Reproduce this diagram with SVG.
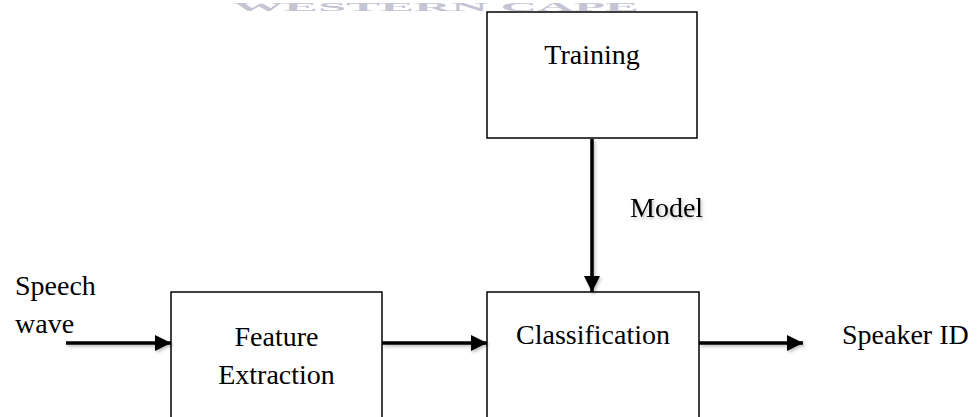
<svg xmlns="http://www.w3.org/2000/svg" width="977" height="417" viewBox="0 0 977 417">
  <style>
    .box { fill: #ffffff; stroke: #000000; stroke-width: 1.5; }
    .lbl { font-family: "Liberation Serif", "Times New Roman", serif; font-size: 28px; fill: #000000; }
    .mid { text-anchor: middle; }
    .wire { stroke: #000000; stroke-width: 3.5; fill: none; marker-end: url(#head); }
    .mark { font-family: "Liberation Serif", serif; font-size: 12px; font-weight: bold; fill: #c4c4d2; }
  </style>
  <defs>
    <marker id="head" viewBox="0 0 16 16" refX="16" refY="8" markerWidth="16" markerHeight="16" markerUnits="userSpaceOnUse" orient="auto">
      <path d="M0,0 L16,8 L0,16 Z" fill="#000000"/>
    </marker>
    <filter id="soft" x="-10%" y="-50%" width="120%" height="200%">
      <feDropShadow dx="1.5" dy="2" stdDeviation="1.5" flood-color="#000000" flood-opacity="0.25"/>
    </filter>
  </defs>

  <rect width="977" height="417" fill="#ffffff"/>

  <!-- faint banner lettering along the top edge -->
  <text class="mark" x="233" y="11" textLength="406" lengthAdjust="spacingAndGlyphs">WESTERN  CAPE</text>

  <g id="training">
    <rect class="box" x="487" y="12" width="210" height="126"/>
    <text class="lbl mid" x="592" y="64">Training</text>
  </g>

  <g id="feature-extraction">
    <rect class="box" x="171" y="292" width="211" height="140"/>
    <text class="lbl mid" x="276.5" y="346">Feature</text>
    <text class="lbl mid" x="276.5" y="384">Extraction</text>
  </g>

  <g id="classification">
    <rect class="box" x="487" y="292" width="212" height="140"/>
    <text class="lbl mid" x="593" y="344">Classification</text>
  </g>

  <g id="input-label">
    <text class="lbl" x="15" y="295">Speech</text>
    <text class="lbl" x="15" y="333">wave</text>
  </g>

  <g id="output-label">
    <text class="lbl" x="842" y="344">Speaker ID</text>
  </g>

  <g id="connectors" filter="url(#soft)">
    <line class="wire" x1="66" y1="343" x2="171" y2="343"/>
    <line class="wire" x1="382" y1="343" x2="487" y2="343"/>
    <line class="wire" x1="699" y1="343" x2="803" y2="343"/>
    <line class="wire" x1="592" y1="139" x2="592" y2="292"/>
    <text class="lbl" x="630" y="217" filter="none">Model</text>
  </g>
</svg>
